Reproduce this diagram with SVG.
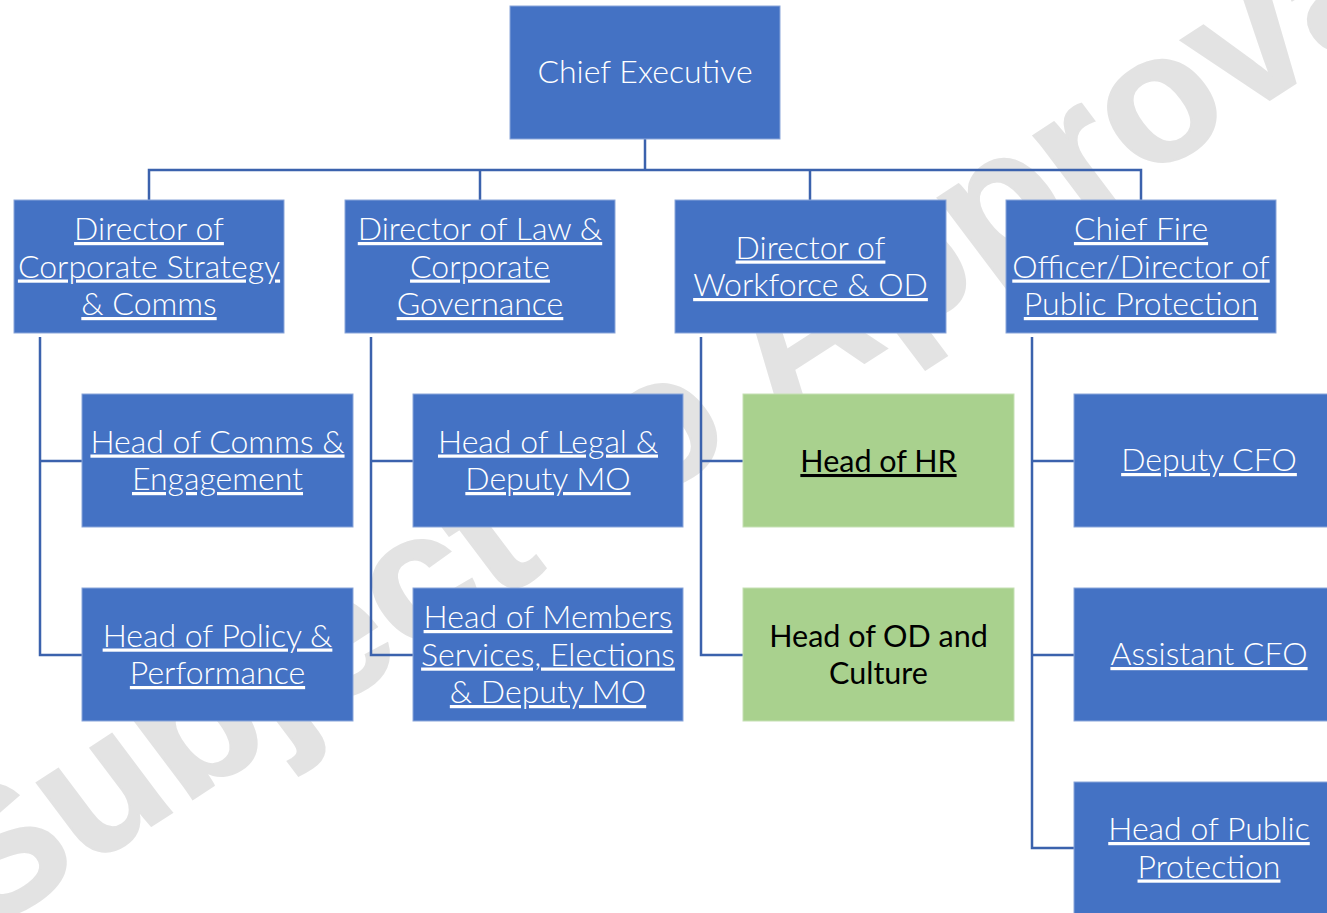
<svg xmlns="http://www.w3.org/2000/svg" width="1327" height="913" viewBox="0 0 1327 913">
<style>
.bg{fill:#ffffff}
.wm{fill:#e3e3e3;stroke:#e3e3e3;stroke-width:2;font-family:"Liberation Sans",Arial,sans-serif;font-weight:bold;font-size:187px}
.blue{fill:#4472c4;stroke:#8aa6da;stroke-width:1}
.green{fill:#a9d18e;stroke:#c5e0b4;stroke-width:1}
.conn{fill:none;stroke:#3b62ad;stroke-width:2.5}
.t{font-family:Lato,"Open Sans","Liberation Sans",sans-serif;font-weight:300;font-size:32px;fill:#ffffff;text-anchor:middle}
.u{text-decoration:underline}
.k{font-family:Lato,"Open Sans","Liberation Sans",sans-serif;font-weight:400;font-size:30.5px;fill:#000000;text-anchor:middle}
</style>
<rect class="bg" x="0" y="0" width="1327" height="913"/>
<text class="wm" transform="matrix(0.8387,-0.5446,0.6018,0.7986,-18,936)" x="0" y="0">Subject to Approval</text>
<g id="connectors">
<polyline class="conn" points="645,139 645,170"/>
<polyline class="conn" points="149,200 149,170 1141,170 1141,200"/>
<polyline class="conn" points="480,170 480,200"/>
<polyline class="conn" points="810,170 810,200"/>
<polyline class="conn" points="40,337 40,655 82,655"/>
<polyline class="conn" points="40,461 82,461"/>
<polyline class="conn" points="371,337 371,655 413,655"/>
<polyline class="conn" points="371,461 413,461"/>
<polyline class="conn" points="701,337 701,655 743,655"/>
<polyline class="conn" points="701,461 743,461"/>
<polyline class="conn" points="1032,337 1032,848 1074,848"/>
<polyline class="conn" points="1032,461 1074,461"/>
<polyline class="conn" points="1032,655 1074,655"/>
</g>
<g id="chief-executive">
<rect class="blue" x="510" y="6" width="270" height="133"/>
<text class="t" x="645" y="83">Chief Executive</text>
</g>
<g id="dir-strategy">
<rect class="blue" x="14" y="200" width="270" height="133"/>
<text class="t u" x="149" y="240">Director of</text>
<text class="t u" x="149" y="277.5">Corporate Strategy</text>
<text class="t u" x="149" y="315">&amp; Comms</text>
</g>
<g id="dir-law">
<rect class="blue" x="345" y="200" width="270" height="133"/>
<text class="t u" x="480" y="240">Director of Law &amp;</text>
<text class="t u" x="480" y="277.5">Corporate</text>
<text class="t u" x="480" y="315">Governance</text>
</g>
<g id="dir-workforce">
<rect class="blue" x="675" y="200" width="271" height="133"/>
<text class="t u" x="810.5" y="258.5">Director of</text>
<text class="t u" x="810.5" y="296">Workforce &amp; OD</text>
</g>
<g id="chief-fire">
<rect class="blue" x="1006" y="200" width="270" height="133"/>
<text class="t u" x="1141" y="240">Chief Fire</text>
<text class="t u" x="1141" y="277.5">Officer/Director of</text>
<text class="t u" x="1141" y="315">Public Protection</text>
</g>
<g id="head-comms">
<rect class="blue" x="82" y="394" width="271" height="133"/>
<text class="t u" x="217.5" y="452.5">Head of Comms &amp;</text>
<text class="t u" x="217.5" y="490">Engagement</text>
</g>
<g id="head-policy">
<rect class="blue" x="82" y="588" width="271" height="133"/>
<text class="t u" x="217.5" y="646.5">Head of Policy &amp;</text>
<text class="t u" x="217.5" y="684">Performance</text>
</g>
<g id="head-legal">
<rect class="blue" x="413" y="394" width="270" height="133"/>
<text class="t u" x="548" y="452.5">Head of Legal &amp;</text>
<text class="t u" x="548" y="490">Deputy MO</text>
</g>
<g id="head-members">
<rect class="blue" x="413" y="588" width="270" height="133"/>
<text class="t u" x="548" y="628">Head of Members</text>
<text class="t u" x="548" y="665.5">Services, Elections</text>
<text class="t u" x="548" y="703">&amp; Deputy MO</text>
</g>
<g id="head-hr">
<rect class="green" x="743" y="394" width="271" height="133"/>
<text class="k u" x="878.5" y="472">Head of HR</text>
</g>
<g id="head-od">
<rect class="green" x="743" y="588" width="271" height="133"/>
<text class="k" x="878.5" y="646.5">Head of OD and</text>
<text class="k" x="878.5" y="684">Culture</text>
</g>
<g id="deputy-cfo">
<rect class="blue" x="1074" y="394" width="270" height="133"/>
<text class="t u" x="1209" y="471">Deputy CFO</text>
</g>
<g id="assistant-cfo">
<rect class="blue" x="1074" y="588" width="270" height="133"/>
<text class="t u" x="1209" y="665">Assistant CFO</text>
</g>
<g id="head-public-protection">
<rect class="blue" x="1074" y="782" width="270" height="133"/>
<text class="t u" x="1209" y="840">Head of Public</text>
<text class="t u" x="1209" y="877.5">Protection</text>
</g>
</svg>
